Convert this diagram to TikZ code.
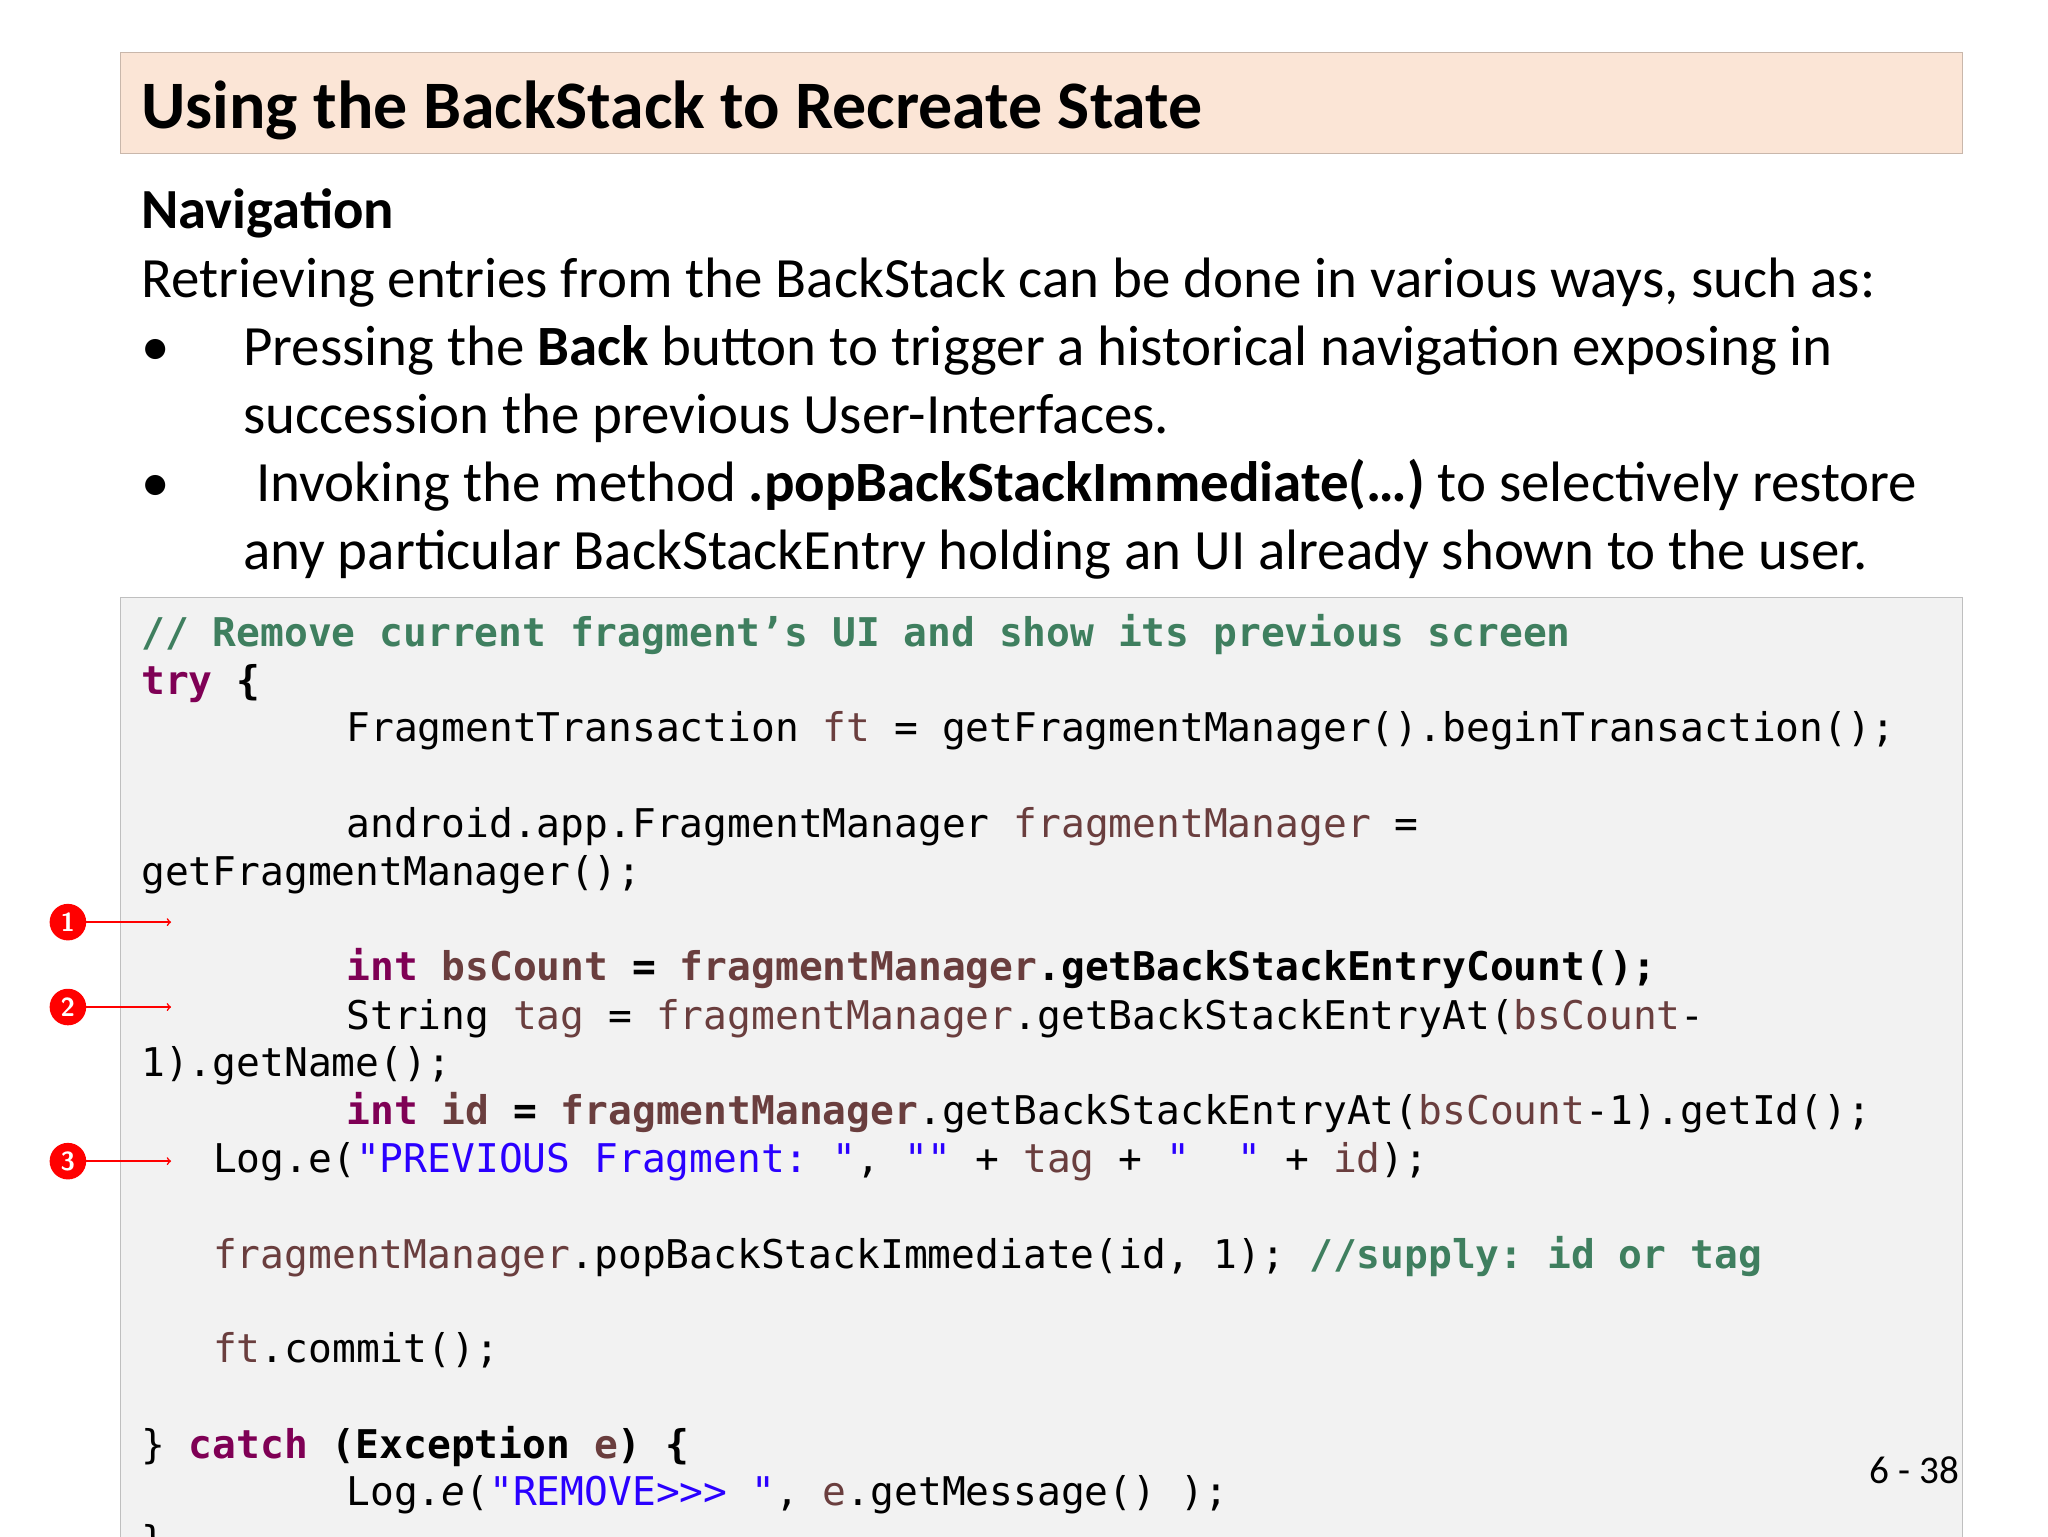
\documentclass[tikz,border=0pt]{standalone}
\usepackage{fontspec}
\setmainfont{Carlito}
\setmonofont{DejaVu Sans Mono}
\definecolor{kwc}{HTML}{7F0055}
\definecolor{fldc}{HTML}{6A3E3E}
\definecolor{strc}{HTML}{2A00FF}
\definecolor{cmc}{HTML}{3F7F5F}
\definecolor{titlebg}{HTML}{FBE5D6}
\definecolor{codebg}{HTML}{F2F2F2}
\newcommand{\kw}[1]{\textcolor{kwc}{\bfseries #1}}
\newcommand{\fld}[1]{\textcolor{fldc}{#1}}
\newcommand{\str}[1]{\textcolor{strc}{#1}}
\newcommand{\cmt}[1]{\textcolor{cmc}{\bfseries #1}}
\begin{document}
\begin{tikzpicture}[x=1pt,y=-1pt,
  code/.style={anchor=base west,inner sep=0pt,font=\fontsize{30.3}{36}\ttfamily},
  body/.style={anchor=base west,inner sep=0pt,font=\fontsize{43.6}{52}\selectfont},
  num/.style={circle,fill=red,text=white,inner sep=0pt,minimum size=28pt,font=\fontsize{20}{20}\bfseries\sffamily},
  arr/.style={-to,red,line width=1.2pt}]
\useasboundingbox (0,0) rectangle (1568,1176);
\clip (0,0) rectangle (1568,1176);
\fill[white] (0,0) rectangle (1568,1176);
\draw[fill=titlebg,draw=titlebg!80!black] (92,40) rectangle (1502,117);
\node[anchor=base west,inner sep=0pt,font=\fontsize{52}{60}\bfseries] (title) at (108,98) {Using the BackStack to Recreate State};
\node[anchor=base west,inner sep=0pt,font=\fontsize{43.4}{52}\bfseries] (nav) at (108,175) {Navigation};
\node[body] (l1) at (108,228) {Retrieving entries from the BackStack can be done in various ways, such as:};
\node[body] (b1) at (108,280) {•};
\node[body] (l2) at (186,280) {Pressing the \textbf{Back} button to trigger a historical navigation exposing in};
\node[body] (l3) at (186,332) {succession the previous User-Interfaces.};
\node[body] (b2) at (108,384) {•};
\node[body] (l4) at (196,384) {Invoking the method \textbf{.popBackStackImmediate(…)} to selectively restore};
\node[body] (l5) at (186,436) {any particular BackStackEntry holding an UI already shown to the user.};
\draw[fill=codebg,draw=black!25] (92,457) rectangle (1502,1200);
\node[code] (c1) at (108,495) {\cmt{//\ Remove\ current\ fragment’s\ UI\ and\ show\ its\ previous\ screen}};
\node[code] (c2) at (108,532) {\kw{try} \textbf{\{}};
\node[code] (c3) at (265,568) {FragmentTransaction\ \fld{ft}\ =\ getFragmentManager().beginTransaction();};
\node[code] (c4) at (265,641) {android.app.FragmentManager\ \fld{fragmentManager}\ =};
\node[code] (c5) at (108,678) {getFragmentManager();};
\node[code] (c6) at (265,751) {\kw{int}\ \textbf{\fld{bsCount}\ =\ \fld{fragmentManager}.getBackStackEntryCount();}};
\node[code] (c7) at (265,788) {String\ \fld{tag}\ =\ \fld{fragmentManager}.getBackStackEntryAt(\fld{bsCount}-};
\node[code] (c8) at (108,824) {1).getName();};
\node[code] (c9) at (265,861) {\kw{int}\ \textbf{\fld{id}\ =\ \fld{fragmentManager}}.getBackStackEntryAt(\fld{bsCount}-1).getId();};
\node[code] (c10) at (163,898) {Log.e(\str{"PREVIOUS\ Fragment:\ "},\ \str{""}\ +\ \fld{tag}\ +\ \str{"\ \ "}\ +\ \fld{id});};
\node[code] (c11) at (163,971) {\fld{fragmentManager}.popBackStackImmediate(id,\ 1);\ \cmt{//supply:\ id\ or\ tag}};
\node[code] (c12) at (163,1043) {\fld{ft}.commit();};
\node[code] (c13) at (108,1117) {\}\ \kw{catch}\ \textbf{(Exception\ \fld{e})\ \{}};
\node[code] (c14) at (265,1153) {Log.\textit{e}(\str{"REMOVE>>>\ "},\ \fld{e}.getMessage()\ );};
\node[code] (c15) at (108,1190) {\}};
\node[anchor=base east,inner sep=0pt,font=\fontsize{30}{34}\selectfont] (pg) at (1500,1136) {6 - 38};
\node[num] (n1) at (52,706) {1};
\node[num] (n2) at (52,771) {2};
\node[num] (n3) at (52,889) {3};
\coordinate (e1) at (131,706);
\coordinate (e2) at (131,771);
\coordinate (e3) at (131,889);
\draw[arr] (n1) -- (e1);
\draw[arr] (n2) -- (e2);
\draw[arr] (n3) -- (e3);
\end{tikzpicture}
\end{document}
